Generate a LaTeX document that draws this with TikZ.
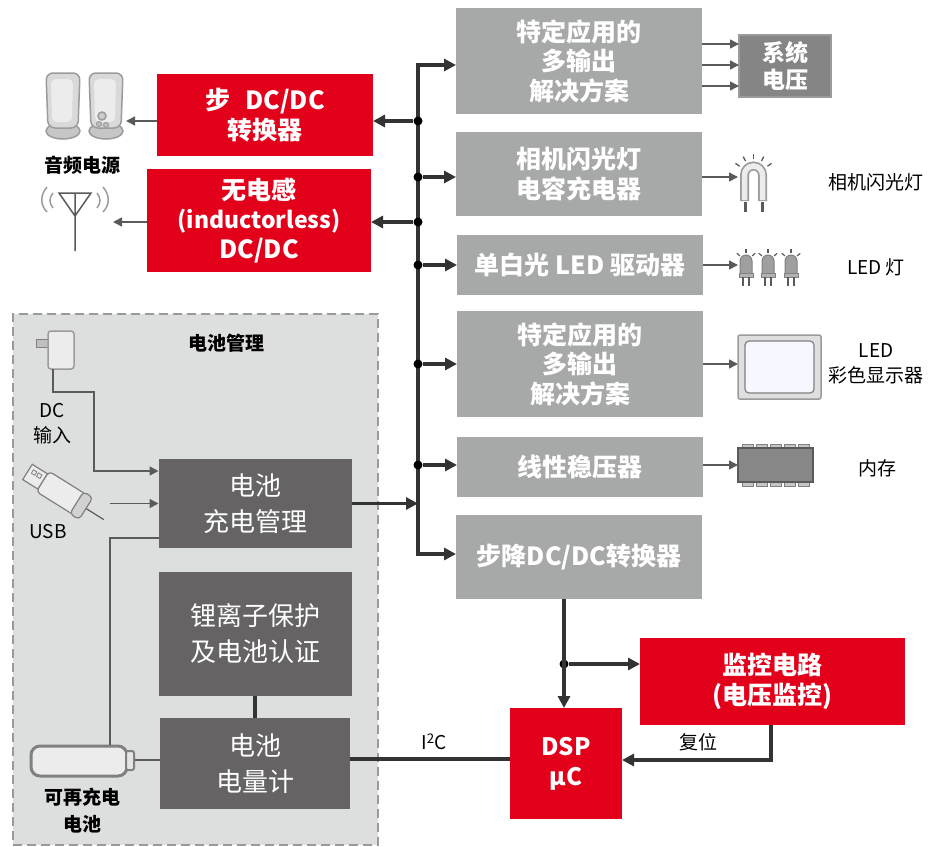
\documentclass[tikz,border=0pt]{standalone}
\usepackage{fontspec}
\setmainfont{Noto Sans CJK SC}
\usetikzlibrary{arrows.meta}

\definecolor{brandred}{HTML}{E2001A}
\definecolor{boxgray}{HTML}{A7A8A8}
\definecolor{battgray}{HTML}{656364}
\definecolor{sysgray}{HTML}{858585}
\definecolor{wire}{HTML}{333333}
\definecolor{feedgray}{HTML}{5A5A5A}
\definecolor{zonefill}{HTML}{DDDEDE}
\definecolor{zoneline}{HTML}{9A9A9A}
\definecolor{iconline}{HTML}{9B9B9B}
\definecolor{iconfill}{HTML}{ECECEC}

\begin{document}
\begin{tikzpicture}[
  x=1pt, y=-1pt,
  box/.style={fill=boxgray, text=white, align=center, inner sep=0pt,
    outer sep=0pt, font=\bfseries\fontsize{25}{29.5}\selectfont},
  redbox/.style={box, fill=brandred},
  battbox/.style={box, fill=battgray, font=\fontsize{26}{36}\selectfont},
  flow/.style={-{Triangle[length=12pt,width=12pt]}, line width=3.2pt,
    draw=wire},
  feed/.style={-{Triangle[length=9pt,width=9pt]}, line width=1.6pt,
    draw=feedgray},
  plain/.style={line width=1.6pt, draw=feedgray},
  junction/.style={circle, fill=black, inner sep=0pt, minimum size=9pt},
  caption/.style={font=\fontsize{19}{25}\selectfont, align=center},
  icon/.style={draw=iconline, fill=iconfill, line width=1.5pt}
]
\useasboundingbox (0,0) rectangle (941,846);

% battery management zone
\node[fill=zonefill, draw=zoneline, dashed, dash pattern=on 9pt off 5pt,
  line width=2pt, minimum width=365pt, minimum height=531pt, outer sep=0pt]
  (battmgmt) at (195.5,579.5) {};
\node[caption, font=\bfseries\fontsize{19}{25}\selectfont] (zonetitle)
  at (226,343) {电池管理};

% power blocks on the right
\node[box, minimum width=246pt, minimum height=106pt] (asicA) at (579,61)
  {特定应用的\\多输出\\解决方案};
\node[box, minimum width=246pt, minimum height=84pt] (flashchg) at (579,174)
  {相机闪光灯\\电容充电器};
\node[box, minimum width=246pt, minimum height=60pt] (wled) at (580,265)
  {单白光 LED 驱动器};
\node[box, minimum width=246pt, minimum height=106pt] (asicB) at (580,364)
  {特定应用的\\多输出\\解决方案};
\node[box, minimum width=246pt, minimum height=60pt] (ldo) at (580,467)
  {线性稳压器};
\node[box, minimum width=246pt, minimum height=84pt] (buck) at (579,557)
  {步降DC/DC转换器};
\node[box, fill=sysgray, draw=iconline, line width=1.2pt,
  font=\bfseries\fontsize{23}{27}\selectfont,
  minimum width=92pt, minimum height=62pt] (sysvolt) at (785,66)
  {系统\\电压};

% red blocks
\node[redbox, minimum width=216pt, minimum height=82pt] (boost) at (265,115)
  {步\hspace{0.6em}DC/DC\\转换器};
\node[redbox, minimum width=224pt, minimum height=103pt] (nodcdc)
  at (259,220.5)
  {无电感\\{\fontsize{23}{29.5}\selectfont(inductorless)}\\DC/DC};
\node[redbox, minimum width=112pt, minimum height=111pt,
  font=\bfseries\fontsize{24}{30}\selectfont] (dsp) at (566,763.5)
  {DSP\\μC};
\node[redbox, minimum width=265pt, minimum height=87pt] (svs)
  at (772.5,681.5) {监控电路\\(电压监控)};

% battery blocks
\node[battbox, minimum width=193pt, minimum height=89pt] (charger)
  at (255,503.5) {电池\\充电管理};
\node[battbox, minimum width=193pt, minimum height=124pt] (liprot)
  at (255,634) {锂离子保护\\及电池认证};
\node[battbox, minimum width=190pt, minimum height=91pt] (gauge)
  at (255,763.5) {电池\\电量计};

% supply bus
\coordinate (bustop) at (418,65);
\coordinate (busbot) at (418,554);
\coordinate (busin) at (418,503.5);
\draw[flow, {Triangle[length=12pt,width=12pt]}-{Triangle[length=12pt,width=12pt]}]
  (asicA.west |- bustop) -- (bustop) -- (busbot) -- (buck.west |- busbot);
\foreach \y in {121,177,222,265,364,465}
  \node[junction] (j\y) at (418,\y) {};
\draw[flow] (j121) -- (boost.east |- j121);
\draw[flow] (j177) -- (flashchg.west |- j177);
\draw[flow] (j222) -- (nodcdc.east |- j222);
\draw[flow] (j265) -- (wled.west |- j265);
\draw[flow] (j364) -- (asicB.west |- j364);
\draw[flow] (j465) -- (ldo.west |- j465);
\draw[flow] (charger.east) -- (busin);

% DSP and supervisor
\node[junction] (jsv) at (564,664) {};
\draw[flow] (buck.south -| jsv) -- (dsp.north -| jsv);
\draw[flow] (jsv) -- (svs.west |- jsv);
\coordinate (rst) at (771,760);
\draw[flow] (svs.south -| rst) |- (dsp.east |- rst);
\node[caption] (rstlabel) at (698,742) {复位};
\draw[line width=3.2pt, draw=wire] ([yshift=4.5pt]gauge.east)
  -- ([yshift=4.5pt]dsp.west);
\node[caption] (i2c) at (434,742) {I\textsuperscript{2}C};
\draw[line width=3.2pt, draw=wire] (liprot.south) -- (gauge.north);

% loads
\foreach \y in {44,65,86}
  \draw[feed] (asicA.east |- 0,\y) -- (sysvolt.west |- 0,\y);
\coordinate (lamp) at (738,177);
\coordinate (leds) at (738,265);
\coordinate (lcd) at (738,364);
\coordinate (mem) at (738,465);
\draw[feed] (flashchg.east |- lamp) -- (lamp);
\draw[feed] (wled.east |- leds) -- (leds);
\draw[feed] (asicB.east |- lcd) -- (lcd);
\draw[feed] (ldo.east |- mem) -- (mem);
\node[caption] (lamplabel) at (876,182) {相机闪光灯};
\node[caption] (ledlabel) at (876,267) {LED 灯};
\node[caption] (lcdlabel) at (876,364) {LED\\彩色显示器};
\node[caption] (memlabel) at (877,468) {内存};

% flash tube
\draw[line width=9pt, draw=iconline] (744.5,201) -- (744.5,175)
  arc (180:0:9pt) -- (762.5,201);
\draw[line width=5.5pt, draw=iconfill] (744.5,200) -- (744.5,175)
  arc (180:0:9pt) -- (762.5,200);
\draw[line width=3pt, draw=feedgray] (745,202) -- (745,212)
  (762,202) -- (762,212);
\foreach \a in {35,62,90,118,145}
  \draw[line width=1.3pt, draw=feedgray] (753.5,176) ++(\a:17pt) -- ++(\a:5pt);

% LEDs
\foreach \x in {746,768,791} {
  \draw[line width=1pt, draw=gray, fill=gray!75]
    (\x-6,274) -- (\x-6,261) arc (180:0:6pt) -- (\x+6,274) -- cycle;
  \draw[line width=1pt, draw=gray, fill=gray!60] (\x-7,273) rectangle (\x+7,277);
  \draw[line width=1.5pt, draw=feedgray] (\x-3,277) -- (\x-3,286)
    (\x+3,277) -- (\x+3,286);
  \foreach \a in {40,90,140}
    \draw[line width=1.2pt, draw=feedgray] (\x,261) ++(\a:8pt) -- ++(\a:4pt);
}

% colour display
\draw[icon, fill=gray!25, rounded corners=2pt] (738,335) rectangle (821,399);
\draw[line width=1.2pt, draw=gray, fill=blue!3, rounded corners=4pt]
  (745,341) rectangle (814,393);

% memory chip
\foreach \x in {742,756,770,784,798} {
  \draw[line width=0.8pt, draw=gray, fill=gray!45] (\x,444) rectangle (\x+11,448);
  \draw[line width=0.8pt, draw=gray, fill=gray!45] (\x,482) rectangle (\x+11,486);
}
\draw[line width=1.5pt, draw=feedgray, fill=black!47] (738,448) rectangle (813,482);

% speakers
\coordinate (spk) at (126,121);
\draw[feed] (boost.west |- spk) -- (spk);
\foreach \x in {63,106} {
  \draw[icon, fill=gray!45] (\x,131) ellipse (17pt and 8pt);
  \draw[icon, fill=gray!30, rounded corners=7pt]
    (\x-15,128) -- (\x-17,73) -- (\x+17,73) -- (\x+15,128) -- cycle;
  \fill[iconfill, rounded corners=5pt]
    (\x-11,122) -- (\x-12,79) -- (\x+10,79) -- (\x+9,122) -- cycle;
}
\draw[icon, fill=gray!40] (102,116) circle (4pt);
\draw[icon, line width=1pt, fill=gray!50] (99,124) circle (2.5pt)
  (106,125) circle (2.5pt);
\node[caption, font=\bfseries\fontsize{19}{25}\selectfont] (spklabel)
  at (82,165) {音频电源};

% antenna
\coordinate (ant) at (113,222);
\draw[feed] (nodcdc.west |- ant) -- (ant);
\draw[line width=1.5pt, draw=feedgray] (59,193) -- (91,193) -- (75,216)
  -- cycle (75,193) -- (75,251);
\draw[line width=1.5pt, draw=iconline]
  (47,187) .. controls (40,195) and (40,205) .. (47,212)
  (53,193) .. controls (49,198) and (49,203) .. (53,208)
  (103,187) .. controls (110,195) and (110,205) .. (103,212)
  (97,193) .. controls (101,198) and (101,203) .. (97,208);

% DC adapter
\draw[line width=1pt, draw=gray, fill=gray!50] (36,339) rectangle (49,347);
\draw[icon, rounded corners=3pt] (48,331) rectangle (74,369);
\coordinate (dcout) at (53,369);
\coordinate (dcbend) at (94,392);
\draw[feed] (dcout) |- (dcbend) |- ([yshift=-12pt]charger.north west);
\node[caption] (dclabel) at (52,424) {DC\\输入};

% USB stick
\begin{scope}[shift={(58,491)}, rotate=-32]
  \draw[line width=1.2pt, draw=feedgray] (32,0) -- (54,0);
  \draw[icon, draw=gray, line width=1.2pt] (-36,-9) rectangle (-18,9);
  \draw[line width=0.8pt, draw=gray] (-32,-5) rectangle (-28,-1)
    (-26,-5) rectangle (-22,-1);
  \draw[icon, draw=gray, line width=1.2pt, rounded corners=4pt]
    (-18,-12) rectangle (26,12);
  \draw[icon, draw=gray, line width=1.2pt, fill=gray!35,
    rounded corners=4pt] (22,-13) rectangle (33,13);
\end{scope}
\coordinate (usbtail) at (110,503.5);
\draw[feed] (usbtail) -- (charger.west);
\node[caption] (usblabel) at (48,532) {USB};

% rechargeable cell
\draw[icon, draw=gray, line width=3pt, rounded corners=9pt]
  (31,746) rectangle (127,776);
\draw[icon, draw=gray, line width=2pt, fill=gray!20, rounded corners=2pt]
  (126,751) rectangle (134,770);
\coordinate (cellpin) at (135,760);
\coordinate (celltop) at (110,745);
\draw[plain] (cellpin) -- (gauge.west |- cellpin);
\draw[plain] (celltop) |- ([yshift=10pt]charger.south west);
\node[caption, font=\bfseries\fontsize{19}{27}\selectfont] (celllabel)
  at (82,811) {可再充电\\电池};
\end{tikzpicture}
\end{document}
